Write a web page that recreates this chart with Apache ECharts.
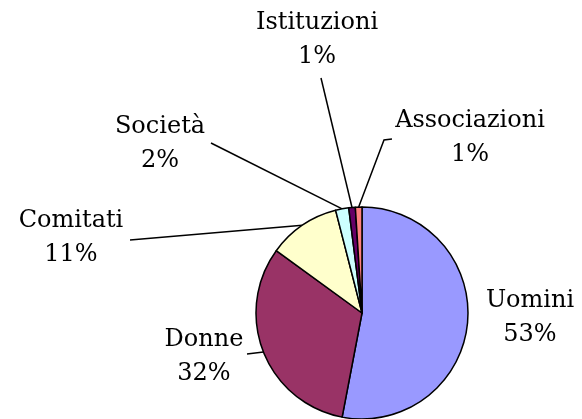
<!DOCTYPE html>
<html>
<head>
<meta charset="utf-8">
<script src="https://cdn.jsdelivr.net/npm/echarts@6/dist/echarts.min.js"></script>
<style>
  html, body { margin: 0; padding: 0; background: #fff; }
  #chart { width: 582px; height: 419px; }
</style>
</head>
<body>
<div id="chart"></div>
<script>
  // categories and shares (%), clockwise from 12 o'clock
  var categories = ['Uomini', 'Donne', 'Comitati', 'Società', 'Istituzioni', 'Associazioni'];
  var shares = [53, 32, 11, 2, 1, 1];
  var colors = ['#9999FF', '#993366', '#FFFFCC', '#CCFFFF', '#660066', '#FF8080'];

  // where each label block sits, and where its leader line ends
  var labelPos = [[530, 318], [204, 357], [71, 238], [160, 144], [317, 40], [470, 138]];
  var lineEnds = [null, [[247, 354]], [[130, 240]], [[211, 143]], [[321, 78]], [[384, 140], [392, 139]]];

  var chart = echarts.init(document.getElementById('chart'));

  var pieData = categories.map(function (name, i) {
    return {
      name: name,
      value: shares[i],
      itemStyle: { color: colors[i] },
      labelLine: { show: i !== 0 }
    };
  });

  chart.setOption({
    backgroundColor: '#ffffff',
    animation: false,
    series: [{
      type: 'pie',
      center: [362, 313],
      radius: 106,
      startAngle: 90,
      clockwise: true,
      avoidLabelOverlap: false,
      data: pieData,
      itemStyle: { borderColor: '#000', borderWidth: 1.5 },
      label: {
        show: true,
        formatter: '{b}\n{d}%',
        fontFamily: 'DejaVu Serif',
        fontSize: 24,
        lineHeight: 34,
        color: '#000',
        align: 'center'
      },
      labelLine: {
        show: true,
        lineStyle: { color: '#000', width: 1.5 }
      },
      labelLayout: function (params) {
        var i = params.dataIndex;
        var out = {
          x: labelPos[i][0],
          y: labelPos[i][1],
          align: 'center',
          verticalAlign: 'middle'
        };
        if (lineEnds[i] && params.labelLinePoints) {
          out.labelLinePoints = [params.labelLinePoints[0]].concat(lineEnds[i]);
        }
        return out;
      }
    }]
  });
</script>
</body>
</html>
